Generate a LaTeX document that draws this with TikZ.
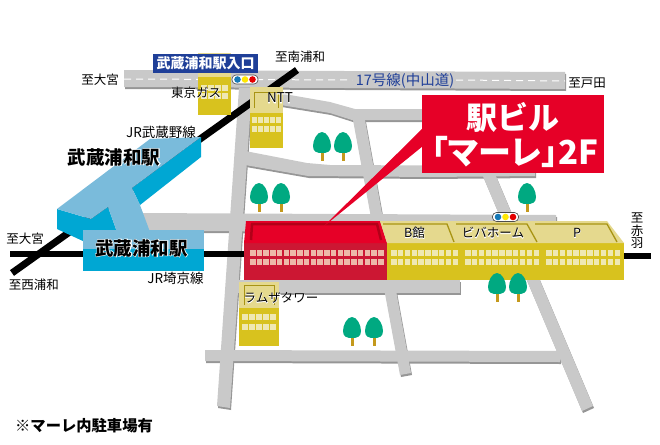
\documentclass[tikz,border=0pt]{standalone}
\usepackage{fontspec}
\setmainfont{Noto Sans CJK JP}
\newfontfamily\halofont{Noto Sans CJK JP}[RawFeature={embolden=5}]
\usetikzlibrary{calc}
\usetikzlibrary{positioning}

\definecolor{roadgrey}{HTML}{C9C9C9}
\definecolor{roadedge}{HTML}{969696}
\definecolor{wallyellow}{HTML}{D8C21E}
\definecolor{roofyellow}{HTML}{E5D98E}
\definecolor{winyellow}{HTML}{EFE8B2}
\definecolor{lineolive}{HTML}{A89414}
\definecolor{wallred}{HTML}{CC1733}
\definecolor{roofred}{HTML}{E60027}
\definecolor{linered}{HTML}{B20018}
\definecolor{winred}{HTML}{EDB9A8}
\definecolor{stablue}{HTML}{7ABBDB}
\definecolor{stacyan}{HTML}{00A7D3}
\definecolor{navy}{HTML}{1F3F98}
\definecolor{leaf}{HTML}{00A981}
\definecolor{trunk}{HTML}{C4991C}

\newcommand{\halo}[1]{\setbox0=\hbox{#1}\makebox[\wd0][c]{\color{white}\halofont #1}\kern-\wd0 \box0}

\tikzset{
    small/.style={font=\fontsize{12.5}{14}\selectfont, inner sep=0pt},
    latin/.style={font=\fontsize{13.5}{14}\selectfont, inner sep=0pt},
    big/.style={font=\bfseries\fontsize{18.5}{20}\selectfont, inner sep=0pt},
    win/.style={fill=winyellow},
    winr/.style={fill=winred},
    tree/.pic={
        \fill[trunk] (-1.5,18) rectangle (1.5,29);
        \fill[leaf] (0,0) .. controls (5,0) and (9,8) .. (9,14) .. controls (9,20) and (5,21) .. (0,21)
            .. controls (-5,21) and (-9,20) .. (-9,14) .. controls (-9,8) and (-5,0) .. (0,0) -- cycle;
    },
    signal/.pic={
        \draw[fill=white, draw=black!70, line width=0.6pt, rounded corners=4pt] (-13,-4.5) rectangle (13,4.5);
        \fill[navy!70!cyan] (-7.5,0) circle (3.3);
        \fill[yellow!90!orange] (0,0) circle (3.3);
        \fill[red!90!black] (7.5,0) circle (3.3);
    }
}

\begin{document}
\begin{tikzpicture}[x=1pt, y=-1pt]
    \useasboundingbox (0,0) rectangle (660,444);

    % roads, edge first and then the top
    \foreach \layer/\dx/\dy in {roadedge/1/2, roadgrey/0/0} {
        \begin{scope}[shift={(\dx,\dy)}]
            \fill[\layer] (124,70) -- (565,72) -- (565,89) -- (124,87) -- cycle;
            \fill[\layer] (250,88) -- (330,102) -- (355,109) -- (470,109) -- (470,120) -- (352,120) -- (330,113) -- (250,100) -- cycle;
            \fill[\layer] (239,88) -- (252,88) -- (230,408) -- (217,406) -- cycle;
            \fill[\layer] (353,120) -- (365,120) -- (411,373) -- (400,375) -- cycle;
            \fill[\layer] (455,110) -- (468,110) -- (593,406) -- (582,411) -- cycle;
            \fill[\layer] (240,150) -- (307,163) -- (330,165) -- (535,166) -- (535,176) -- (430,177) -- (308,176) -- (245,165) -- cycle;
            \fill[\layer] (135,213) -- (556,215) -- (556,232) -- (135,231) -- cycle;
            \fill[\layer] (230,280) -- (460,280) -- (460,293) -- (230,293) -- cycle;
            \fill[\layer] (205,350) -- (560,351) -- (560,362) -- (205,361) -- cycle;
        \end{scope}
    }
    \draw[white, dashed, dash pattern=on 7pt off 5pt, line width=1pt] (124,79) -- (352,80);
    \draw[white, dashed, dash pattern=on 7pt off 5pt, line width=1pt] (456,80) -- (565,81);

    % rails
    \coordinate (nanura) at (297,70);
    \coordinate (nishi) at (12,273);
    \coordinate (omiya) at (10,254);
    \coordinate (mare) at (250,254);
    \coordinate (akabane) at (620,256);
    \coordinate (akabaneend) at (651,256);
    \draw[line width=7pt] (nishi) -- (nanura);
    \draw[line width=5.5pt] (omiya) -- (mare);
    \draw[line width=5.5pt] (akabane) -- (akabaneend);

    % small buildings
    \fill[roofyellow] (198,53) rectangle (231,77);
    \fill[wallyellow] (198,77) rectangle (231,115);
    \foreach \x in {201,208,215,222} {
        \fill[win] (\x,85) rectangle ++(5.5,6);
        \fill[win] (\x,92.5) rectangle ++(5.5,6);
    }
    \fill[roofyellow] (250,87) rectangle (283,113);
    \fill[wallyellow] (250,113) rectangle (283,148);
    \draw[lineolive] (254,108) -- (254,92) -- (278,92) -- (278,108);
    \foreach \x in {252,258,264,270,276} {
        \fill[win] (\x,117) rectangle ++(4.5,6);
        \fill[win] (\x,125.5) rectangle ++(4.5,6);
    }
    \fill[roofyellow] (239,282) rectangle (279,308);
    \fill[wallyellow] (239,308) rectangle (279,346);
    \draw[lineolive] (244,305) -- (244,285) -- (274,285) -- (274,305);
    \foreach \x in {242,249,256,263,270} {
        \fill[win] (\x,314) rectangle ++(5.5,6);
        \fill[win] (\x,323.5) rectangle ++(5.5,6);
    }

    % station building
    \fill[wallred] (244,243) rectangle (387,280);
    \fill[roofred] (246,221) -- (380,221) -- (387,243) -- (244,243) -- cycle;
    \draw[linered, line width=2.5pt] (251,240) -- (252,224) -- (377,224) -- (381,240);
    \foreach \i in {0,...,19} {
        \fill[winr] ({250+\i*6.74},250) rectangle ++(5.5,6);
        \fill[winr] ({250+\i*6.74},258.5) rectangle ++(5.5,6);
    }
    \fill[wallyellow] (387,243) rectangle (624,280);
    \fill[roofyellow] (380,221) -- (607,221) -- (624,243) -- (387,243) -- cycle;
    \draw[lineolive, line width=1.3pt] (383,224) -- (447,224) -- (454,242);
    \draw[lineolive, line width=1.3pt] (456,224) -- (527,224) -- (537,242);
    \draw[lineolive, line width=1.3pt] (535,224) -- (607,224) -- (617,242);
    \foreach \start/\last in {391/9, 465/10, 546/10} {
        \foreach \i in {0,...,\last} {
            \fill[win] ({\start+\i*6.85},250) rectangle ++(5.5,6);
            \fill[win] ({\start+\i*6.85},258.5) rectangle ++(5.5,6);
        }
    }

    % platform
    \fill[stacyan] (201,137) -- (201,157) -- (140,205) -- (132,188) -- cycle;
    \fill[stacyan] (57,209) -- (91,219) -- (108,207) -- (117,232) -- (85,242) -- (57,229) -- cycle;
    \fill[stablue] (57,209) -- (150,139) -- (201,137) -- (132,188) -- (140,205) -- (150,232) -- (117,232) -- (108,207) -- (91,219) -- cycle;
    \fill[stablue] (83,230) rectangle (204,249);
    \fill[stacyan] (83,249) rectangle (204,271);

    % trees
    \foreach \x/\y in {322/132, 343/132, 259/183, 281/183, 527/183, 497/273, 518/273, 352/317, 374/317} {
        \pic at (\x,\y) {tree};
    }

    % signals
    \pic at (245,79.5) {signal};
    \pic at (505.5,217) {signal};

    % sign
    \coordinate (tip) at (323,227);
    \coordinate (tipa) at (423,128);
    \coordinate (tipb) at (423,146);
    \fill[roofred] (tipa) -- (tip) -- (tipb) -- cycle;
    \node[fill=roofred, minimum width=182pt, minimum height=78pt, inner sep=0pt] (signbox) at (513,134) {};
    \node[font=\bfseries\fontsize{31}{32}\selectfont, text=white, inner sep=0pt] (signtop) at (513,117) {駅ビル};
    \node[font=\bfseries\fontsize{33}{33}\selectfont\addfontfeature{RawFeature=+palt}, text=white, inner sep=0pt] (signlow) at (515,152) {「マーレ」2F};
    \node[fill=navy, text=white, font=\bfseries\fontsize{14}{16}\selectfont, minimum width=105pt, minimum height=19pt, inner sep=0pt] (entrance) at (205.5,63.5) {武蔵浦和駅入口};

    % labels
    \node[small] (tominami) at (300,57) {至南浦和};
    \node[small] (toomiya) at (100,80) {至大宮};
    \node[small] (tokyogas) at (196,93) {\halo{東京ガス}};
    \node[latin] (ntt) at (280,98) {\halo{NTT}};
    \node[latin] (musashino) at (161,132) {JR武蔵野線};
    \node[big] (uppersta) at (114,157) {\halo{武蔵浦和駅}};
    \node[big] (lowersta) at (141.5,248) {\halo{武蔵浦和駅}};
    \node[small] (toomiyab) at (25,239) {至大宮};
    \node[small] (tonishi) at (34,285) {至西浦和};
    \node[latin] (saikyo) at (175.5,278) {JR埼京線};
    \node[small] (lamza) at (281,298) {\halo{ラムザタワー}};
    \node[small] (bkan) at (414.5,233) {\halo{B館}};
    \node[small] (biva) at (493,233) {\halo{ビバホーム}};
    \node[small] (parking) at (577,233) {\halo{P}};
    \node[font=\fontsize{14.5}{16}\selectfont, inner sep=0pt, text=navy] (route) at (405,81) {17号線(中山道)};
    \node[small] (toda) at (587,83) {至戸田};
    \node[small, align=center, font=\fontsize{12.5}{12.5}\selectfont] (toakabane) at (637,231) {至\\赤\\羽};
    \node[font=\bfseries\fontsize{15.3}{17}\selectfont, inner sep=0pt] (note) at (84,426) {※マーレ内駐車場有};
\end{tikzpicture}
\end{document}
